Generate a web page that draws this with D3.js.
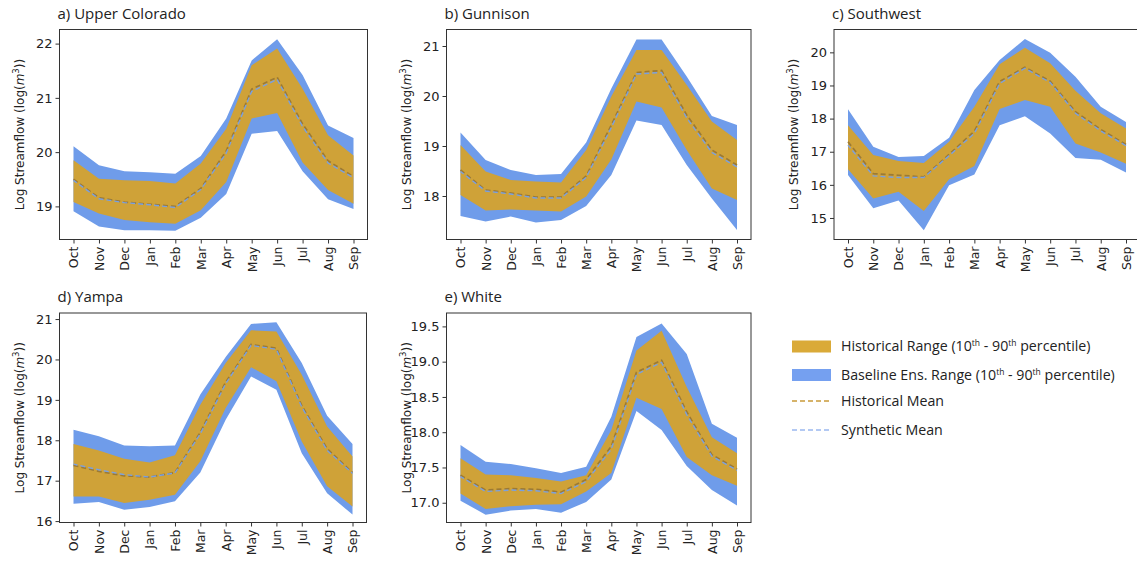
<!DOCTYPE html>
<html>
<head>
<meta charset="utf-8">
<script src="https://cdn.jsdelivr.net/npm/d3@7"></script>
<style>
  body { margin: 0; background: #fff; }
  svg { display: block; }
</style>
</head>
<body>
<script>
// months of the water year
const months = ["Oct","Nov","Dec","Jan","Feb","Mar","Apr","May","Jun","Jul","Aug","Sep"];

// a) Upper Colorado
const ucSynHi   = [20.11, 19.76, 19.65, 19.63, 19.60, 19.93, 20.62, 21.69, 22.08, 21.42, 20.49, 20.26];
const ucHistHi  = [19.85, 19.51, 19.48, 19.47, 19.42, 19.79, 20.43, 21.60, 21.91, 21.17, 20.31, 19.94];
const ucHistMean= [19.50, 19.16, 19.08, 19.04, 19.00, 19.33, 20.02, 21.16, 21.38, 20.52, 19.84, 19.55];
const ucSynMean = [19.48, 19.14, 19.07, 19.03, 18.98, 19.31, 19.98, 21.12, 21.34, 20.47, 19.80, 19.53];
const ucHistLo  = [19.08, 18.87, 18.75, 18.71, 18.68, 18.93, 19.45, 20.62, 20.72, 19.81, 19.30, 19.05];
const ucSynLo   = [18.91, 18.63, 18.56, 18.56, 18.55, 18.79, 19.23, 20.34, 20.39, 19.65, 19.13, 18.95];

// b) Gunnison
const guSynHi   = [19.27, 18.72, 18.52, 18.42, 18.44, 19.07, 20.15, 21.13, 21.13, 20.39, 19.60, 19.42];
const guHistHi  = [19.02, 18.49, 18.32, 18.29, 18.27, 18.92, 19.99, 20.92, 20.92, 20.22, 19.49, 19.12];
const guHistMean= [18.52, 18.12, 18.06, 17.98, 17.98, 18.40, 19.42, 20.47, 20.51, 19.62, 18.92, 18.62];
const guSynMean = [18.49, 18.10, 18.04, 17.96, 17.96, 18.37, 19.37, 20.44, 20.47, 19.56, 18.87, 18.58];
const guHistLo  = [18.02, 17.71, 17.73, 17.71, 17.69, 17.99, 18.73, 19.89, 19.77, 18.92, 18.15, 17.92];
const guSynLo   = [17.60, 17.49, 17.59, 17.47, 17.52, 17.80, 18.42, 19.51, 19.42, 18.62, 17.95, 17.32];

// c) Southwest
const swSynHi   = [18.28, 17.15, 16.84, 16.87, 17.42, 18.86, 19.77, 20.40, 19.99, 19.26, 18.36, 17.90];
const swHistHi  = [17.80, 16.90, 16.72, 16.66, 17.30, 18.36, 19.64, 20.14, 19.67, 18.84, 18.16, 17.70];
const swHistMean= [17.30, 16.34, 16.29, 16.24, 16.92, 17.62, 19.12, 19.55, 19.13, 18.21, 17.67, 17.22];
const swSynMean = [17.20, 16.27, 16.22, 16.22, 16.88, 17.55, 19.06, 19.52, 19.09, 18.16, 17.63, 17.18];
const swHistLo  = [16.47, 15.59, 15.79, 15.21, 16.17, 16.57, 18.29, 18.56, 18.36, 17.25, 16.98, 16.64];
const swSynLo   = [16.30, 15.29, 15.53, 14.63, 15.99, 16.31, 17.80, 18.07, 17.55, 16.81, 16.76, 16.37];

// d) Yampa
const yaSynHi   = [18.26, 18.10, 17.87, 17.85, 17.87, 19.13, 20.06, 20.88, 20.92, 19.91, 18.61, 17.91];
const yaHistHi  = [17.91, 17.75, 17.54, 17.45, 17.63, 18.88, 19.91, 20.72, 20.69, 19.62, 18.34, 17.60];
const yaHistMean= [17.38, 17.23, 17.12, 17.09, 17.20, 18.20, 19.44, 20.37, 20.28, 18.86, 17.79, 17.20];
const yaSynMean = [17.41, 17.27, 17.15, 17.09, 17.19, 18.16, 19.40, 20.35, 20.25, 18.82, 17.75, 17.18];
const yaHistLo  = [16.61, 16.61, 16.45, 16.53, 16.65, 17.48, 18.80, 19.81, 19.46, 17.97, 16.86, 16.36];
const yaSynLo   = [16.43, 16.47, 16.28, 16.35, 16.49, 17.20, 18.51, 19.58, 19.25, 17.68, 16.69, 16.16];

// e) White
const whSynHi   = [17.82, 17.58, 17.55, 17.49, 17.42, 17.51, 18.22, 19.35, 19.54, 19.11, 18.12, 17.92];
const whHistHi  = [17.63, 17.40, 17.39, 17.35, 17.30, 17.39, 18.03, 19.16, 19.44, 18.64, 17.93, 17.70];
const whHistMean= [17.39, 17.18, 17.20, 17.19, 17.15, 17.33, 17.80, 18.85, 19.02, 18.29, 17.68, 17.48];
const whSynMean = [17.37, 17.16, 17.18, 17.17, 17.13, 17.30, 17.76, 18.82, 18.99, 18.25, 17.66, 17.46];
const whHistLo  = [17.13, 16.91, 16.95, 16.97, 16.98, 17.16, 17.42, 18.49, 18.33, 17.65, 17.39, 17.24];
const whSynLo   = [17.03, 16.83, 16.89, 16.91, 16.86, 17.01, 17.33, 18.30, 18.03, 17.52, 17.18, 16.96];

const titles = ["a) Upper Colorado", "b) Gunnison", "c) Southwest", "d) Yampa", "e) White"];
const yDomains = [[18.39, 22.26], [17.13, 21.33], [14.35, 20.69], [15.965, 21.15], [16.72, 19.69]];
const yTicks = [[19, 20, 21, 22], [18, 19, 20, 21], [15, 16, 17, 18, 19, 20],
                [16, 17, 18, 19, 20, 21], [17.0, 17.5, 18.0, 18.5, 19.0, 19.5]];

const legendLabels = ["Historical Range (10", "Baseline Ens. Range (10", "Historical Mean", "Synthetic Mean"];

const series = [
  [ucSynHi, ucHistHi, ucHistMean, ucSynMean, ucHistLo, ucSynLo],
  [guSynHi, guHistHi, guHistMean, guSynMean, guHistLo, guSynLo],
  [swSynHi, swHistHi, swHistMean, swSynMean, swHistLo, swSynLo],
  [yaSynHi, yaHistHi, yaHistMean, yaSynMean, yaHistLo, yaSynLo],
  [whSynHi, whHistHi, whHistMean, whSynMean, whHistLo, whSynLo]
];

// panel frames
const frames = [
  { x: 59.5, y: 29.5, w: 308, h: 210 },
  { x: 446.5, y: 29.5, w: 304.5, h: 210 },
  { x: 834, y: 29.5, w: 306, h: 210 },
  { x: 59.5, y: 313, w: 307, h: 209.5 },
  { x: 446.5, y: 313, w: 304.5, h: 209.5 }
];

const goldFill = "#cfa238";
const blueFill = "#6f9cea";
const histLine = "#9c7a34";
const synLine = "#7aa0e0";

const width = 1137, height = 563;
const svg = d3.select("body").append("svg")
  .attr("width", width)
  .attr("height", height);

series.forEach((s, i) => {
  const f = frames[i];
  const [synHi, histHi, histMean, synMean, histLo, synLo] = s;

  const x = d3.scalePoint().domain(months).range([14, f.w - 14]);
  const y = d3.scaleLinear().domain(yDomains[i]).range([f.h, 0]);

  const g = svg.append("g").attr("transform", `translate(${f.x},${f.y})`);

  const band = (lo, hi) => d3.area()
    .x((d, j) => x(months[j]))
    .y0((d, j) => y(lo[j]))
    .y1((d, j) => y(hi[j]))(months);

  const line = arr => d3.line()
    .x((d, j) => x(months[j]))
    .y(d => y(d))(arr);

  g.append("path").attr("d", band(synLo, synHi)).attr("fill", blueFill);
  g.append("path").attr("d", band(histLo, histHi)).attr("fill", goldFill);

  g.append("path").attr("d", line(histMean))
    .attr("fill", "none").attr("stroke", histLine)
    .attr("stroke-width", 1.7).attr("stroke-dasharray", "5,3");
  g.append("path").attr("d", line(synMean))
    .attr("fill", "none").attr("stroke", synLine)
    .attr("stroke-width", 1.4).attr("stroke-dasharray", "5,3")
    .attr("stroke-dashoffset", 1);

  g.append("rect")
    .attr("width", f.w).attr("height", f.h)
    .attr("fill", "none").attr("stroke", "#333").attr("stroke-width", 1);

  const fmt = i === 4 ? d3.format(".1f") : d3.format("d");
  const yAxis = g.append("g")
    .call(d3.axisLeft(y).tickValues(yTicks[i]).tickSize(4).tickPadding(3).tickFormat(fmt));
  yAxis.select(".domain").remove();
  yAxis.selectAll("line").attr("stroke", "#333");
  yAxis.selectAll("text")
    .attr("font-family", "DejaVu Sans").attr("font-size", 13).attr("fill", "#222");

  const xAxis = g.append("g")
    .attr("transform", `translate(0,${f.h})`)
    .call(d3.axisBottom(x).tickSize(4));
  xAxis.select(".domain").remove();
  xAxis.selectAll("line").attr("stroke", "#333");
  xAxis.selectAll("text")
    .attr("transform", "rotate(-90)")
    .attr("x", -7).attr("y", 0).attr("dy", "0.35em")
    .attr("text-anchor", "end")
    .attr("font-family", "DejaVu Sans").attr("font-size", 12.5).attr("fill", "#222");

  g.append("text")
    .attr("x", -2).attr("y", -11)
    .attr("font-family", "Open Sans").attr("font-size", 15).attr("fill", "#222")
    .text(titles[i]);

  const yl = g.append("text")
    .attr("transform", `translate(-36,${f.h / 2}) rotate(-90)`)
    .attr("text-anchor", "middle")
    .attr("font-family", "DejaVu Sans").attr("font-size", 12).attr("fill", "#222");
  yl.append("tspan").text("Log Streamflow (log(");
  yl.append("tspan").attr("font-style", "italic").text("m");
  yl.append("tspan").attr("font-size", 8.5).attr("dy", -5).text("3");
  yl.append("tspan").attr("dy", 5).text("))");
});

// legend
const lg = svg.append("g").attr("font-family", "Open Sans").attr("font-size", 14.2).attr("fill", "#222");
const legendY = [346.5, 375, 401, 430];
legendLabels.forEach((lab, k) => {
  const yy = legendY[k];
  if (k < 2) {
    lg.append("rect").attr("x", 792).attr("y", yy - 6).attr("width", 39).attr("height", 12)
      .attr("fill", k === 0 ? "#daaa38" : "#75a0f0");
  } else {
    lg.append("line").attr("x1", 792).attr("x2", 831).attr("y1", yy).attr("y2", yy)
      .attr("stroke", k === 2 ? "#c99a3a" : "#9ab8f0").attr("stroke-width", 1.5)
      .attr("stroke-dasharray", "5,3");
  }
  const t = lg.append("text").attr("x", 841).attr("y", yy).attr("dy", "0.35em");
  t.append("tspan").text(lab);
  if (k < 2) {
    t.append("tspan").attr("font-size", 8.5).attr("dy", -5).text("th");
    t.append("tspan").attr("dy", 5).text(" - 90");
    t.append("tspan").attr("font-size", 8.5).attr("dy", -5).text("th");
    t.append("tspan").attr("dy", 5).text(" percentile)");
  }
});
</script>
</body>
</html>
